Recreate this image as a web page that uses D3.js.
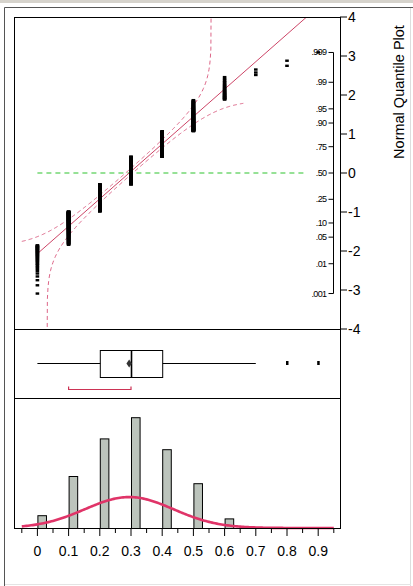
<!DOCTYPE html>
<html>
<head>
<meta charset="utf-8">
<script src="https://cdn.jsdelivr.net/npm/d3@7"></script>
<style>
 body { margin:0; background:#fff; }
 text { font-family:"Liberation Sans", Arial, sans-serif; }
</style>
</head>
<body>
<svg id="chart" width="413" height="586"></svg>
<script>
// data
var values = [0, 0.1, 0.2, 0.3, 0.4, 0.5, 0.6, 0.7, 0.8, 0.9];
var counts = [32, 130, 224, 277, 197, 112, 24, 3, 2, 1];
var xTickValues = [0, 0.1, 0.2, 0.3, 0.4, 0.5, 0.6, 0.7, 0.8, 0.9];
var xTickLabels = ["0", "0.1", "0.2", "0.3", "0.4", "0.5", "0.6", "0.7", "0.8", "0.9"];
var quantileTicks = [4, 3, 2, 1, 0, -1, -2, -3, -4];
var probTicks = [0.001, 0.01, 0.05, 0.10, 0.25, 0.50, 0.75, 0.90, 0.95, 0.99, 0.999];
var probLabels = [".001", ".01", ".05", ".10", ".25", ".50", ".75", ".90", ".95", ".99", ".999"];
var shortestHalf = [0.1, 0.3];
var bandD = 0.032;       // confidence band width (probability)
var bandRange = [-0.05, 0.66];
var binWidth = 0.0275;

// stats
var n = d3.sum(counts);
var mean = d3.sum(values, function(v, i) { return v * counts[i]; }) / n;
var sd = Math.sqrt(d3.sum(values, function(v, i) { return (v - mean) * (v - mean) * counts[i]; }) / (n - 1));

function normCdf(z) {
 var t = 1 / (1 + 0.2316419 * Math.abs(z));
 var d = 0.3989423 * Math.exp(-z * z / 2);
 var p = d * t * (0.3193815 + t * (-0.3565638 + t * (1.781478 + t * (-1.821256 + t * 1.330274))));
 return z > 0 ? 1 - p : p;
}
function normInv(p) {
 var a = [-39.6968302866538, 220.946098424521, -275.928510446969, 138.357751867269, -30.6647980661472, 2.50662827745924];
 var b = [-54.4760987982241, 161.585836858041, -155.698979859887, 66.8013118877197, -13.2806815528857];
 var c = [-0.00778489400243029, -0.322396458041136, -2.40075827716184, -2.54973253934373, 4.37466414146497, 2.93816398269878];
 var d = [0.00778469570904146, 0.32246712907004, 2.445134137143, 3.75440866190742];
 var q, r;
 if (p < 0.02425) {
  q = Math.sqrt(-2 * Math.log(p));
  return (((((c[0]*q+c[1])*q+c[2])*q+c[3])*q+c[4])*q+c[5]) / ((((d[0]*q+d[1])*q+d[2])*q+d[3])*q+1);
 }
 if (p > 1 - 0.02425) {
  q = Math.sqrt(-2 * Math.log(1 - p));
  return -(((((c[0]*q+c[1])*q+c[2])*q+c[3])*q+c[4])*q+c[5]) / ((((d[0]*q+d[1])*q+d[2])*q+d[3])*q+1);
 }
 q = p - 0.5; r = q * q;
 return (((((a[0]*r+a[1])*r+a[2])*r+a[3])*r+a[4])*r+a[5])*q / (((((b[0]*r+b[1])*r+b[2])*r+b[3])*r+b[4])*r+1);
}

// box stats from the counts
function quantileOf(p) {
 var cum = 0;
 for (var i = 0; i < values.length; i++) { cum += counts[i]; if (cum / n >= p) return values[i]; }
 return values[values.length - 1];
}
var q1 = quantileOf(0.25), med = quantileOf(0.5), q3 = quantileOf(0.75);
var iqr = q3 - q1;
var inside = values.filter(function(v, i) { return counts[i] > 0 && v >= q1 - 1.5 * iqr - 1e-9 && v <= q3 + 1.5 * iqr + 1e-9; });
var whiskLo = d3.min(inside), whiskHi = d3.max(inside);
var outliers = values.filter(function(v, i) { return counts[i] > 0 && (v < whiskLo || v > whiskHi); });

var svg = d3.select("#chart");
var L = 14, R = 340, T = 17, qB = 329, bB = 398, hB = 528;

var x = d3.scaleLinear().domain([-0.075, 0.975]).range([L, L + 327.6]);
var yq = d3.scaleLinear().domain([-4, 4]).range([qB, T]);
var yh = d3.scaleLinear().domain([0, 325]).range([hB, bB]);

// window frame
svg.append("rect").attr("x", 0).attr("y", 0).attr("width", 413).attr("height", 3).attr("fill", "#d6d3cc");
svg.append("line").attr("x1", 4.5).attr("x2", 4.5).attr("y1", 7.5).attr("y2", 586).attr("stroke", "#555");
svg.append("line").attr("x1", 4.5).attr("x2", 413).attr("y1", 7.5).attr("y2", 7.5).attr("stroke", "#555");
svg.append("line").attr("x1", 410.5).attr("x2", 410.5).attr("y1", 8).attr("y2", 586).attr("stroke", "#ddd");
svg.append("line").attr("x1", 5).attr("x2", 411).attr("y1", 584.5).attr("y2", 584.5).attr("stroke", "#e4e4e4");

svg.append("clipPath").attr("id", "qclip").append("rect")
  .attr("x", L).attr("y", T).attr("width", R - L).attr("height", qB - T);

// ---- quantile panel
var qg = svg.append("g").attr("clip-path", "url(#qclip)");
var fitEnd = mean + 4 * sd;

qg.append("line")
  .attr("x1", x(values[0])).attr("x2", x(fitEnd))
  .attr("y1", yq(0)).attr("y2", yq(0))
  .attr("stroke", "#2ec42e").attr("stroke-width", 1.2).attr("stroke-dasharray", "5,4");

var bandXs = d3.range(bandRange[0], bandRange[1] + 1e-9, 0.002);
var bandLine = d3.line().x(function(d) { return x(d[0]); }).y(function(d) { return yq(d[1]); });
var upper = bandXs.map(function(v) { var p = normCdf((v - mean) / sd) + bandD; return [v, p >= 0.99999 ? 6 : normInv(p)]; });
var lower = bandXs.map(function(v) { var p = normCdf((v - mean) / sd) - bandD; return [v, p <= 0.00001 ? -6 : normInv(p)]; });
[upper, lower].forEach(function(b) {
 qg.append("path").attr("d", bandLine(b)).attr("fill", "none")
   .attr("stroke", "#dd6688").attr("stroke-width", 1).attr("stroke-dasharray", "4,3");
});

qg.append("line")
  .attr("x1", x(values[0])).attr("x2", x(fitEnd))
  .attr("y1", yq((values[0] - mean) / sd)).attr("y2", yq(4))
  .attr("stroke", "#cc4466").attr("stroke-width", 1);

// data points, one per observation
var pts = [], rank = 0;
values.forEach(function(v, i) {
 for (var k = 0; k < counts[i]; k++) { rank++; pts.push([v, normInv(rank / (n + 1))]); }
});
qg.selectAll("rect.pt").data(pts).enter().append("rect").attr("class", "pt")
  .attr("x", function(d) { return x(d[0]) - 1.8; }).attr("y", function(d) { return yq(d[1]) - 1.2; })
  .attr("width", 3.6).attr("height", 2.4).attr("fill", "#000");

// prob axis
var pAxisX = 333.5;
svg.append("line").attr("x1", pAxisX).attr("x2", pAxisX)
  .attr("y1", yq(normInv(probTicks[0]))).attr("y2", yq(normInv(probTicks[probTicks.length - 1])))
  .attr("stroke", "#000");
probTicks.forEach(function(p, i) {
 var yy = yq(normInv(p));
 svg.append("line").attr("x1", pAxisX - 5).attr("x2", pAxisX).attr("y1", yy).attr("y2", yy).attr("stroke", "#000");
 svg.append("text").attr("x", pAxisX - 7).attr("y", yy + 3).attr("text-anchor", "end")
   .attr("font-size", "9px").attr("letter-spacing", "-0.6px").text(probLabels[i]);
});

// quantile axis
svg.append("line").attr("x1", R + 0.5).attr("x2", R + 0.5).attr("y1", T).attr("y2", hB).attr("stroke", "#000");
quantileTicks.forEach(function(q) {
 svg.append("line").attr("x1", R).attr("x2", R + 7).attr("y1", yq(q)).attr("y2", yq(q)).attr("stroke", "#000");
 svg.append("text").attr("x", R + 8).attr("y", yq(q) + 5).attr("font-size", "14px")
   .text(q < 0 ? "-" + Math.abs(q) : q);
});
svg.append("text").attr("transform", "translate(404,92) rotate(-90)")
  .attr("text-anchor", "middle").attr("font-size", "14.5px").text("Normal Quantile Plot");

// plot frame
svg.append("line").attr("x1", L + 0.5).attr("x2", L + 0.5).attr("y1", T).attr("y2", hB).attr("stroke", "#000");
svg.append("line").attr("x1", L).attr("x2", R + 1).attr("y1", T + 0.5).attr("y2", T + 0.5).attr("stroke", "#000");
svg.append("line").attr("x1", L).attr("x2", R + 1).attr("y1", qB + 0.5).attr("y2", qB + 0.5).attr("stroke", "#000");
svg.append("line").attr("x1", L).attr("x2", R + 1).attr("y1", bB + 0.5).attr("y2", bB + 0.5).attr("stroke", "#000");

// ---- box plot panel
var bTop = 350, bBot = 377, bMid = 363.5;
svg.append("line").attr("x1", x(whiskLo)).attr("x2", x(whiskHi)).attr("y1", bMid).attr("y2", bMid).attr("stroke", "#000");
svg.append("rect").attr("x", x(q1) + 0.5).attr("y", bTop + 0.5).attr("width", x(q3) - x(q1)).attr("height", bBot - bTop)
  .attr("fill", "#fff").attr("stroke", "#000");
svg.append("line").attr("x1", x(med) + 0.5).attr("x2", x(med) + 0.5).attr("y1", bTop).attr("y2", bBot)
  .attr("stroke", "#000").attr("stroke-width", 1.6);
var ci = 1.96 * sd / Math.sqrt(n);
svg.append("path")
  .attr("d", "M" + x(mean - ci) + "," + bMid + "L" + x(mean) + "," + (bMid - 4) + "L" + x(mean + ci) + "," + bMid + "L" + x(mean) + "," + (bMid + 4) + "Z")
  .attr("fill", "#333").attr("stroke", "none");
svg.selectAll("rect.out").data(outliers).enter().append("rect").attr("class", "out")
  .attr("x", function(d) { return x(d) - 1; }).attr("y", bMid - 2.5).attr("width", 2.5).attr("height", 4).attr("fill", "#000");
var shY = 389.5;
svg.append("path")
  .attr("d", "M" + x(shortestHalf[0]) + "," + (shY - 3) + "V" + shY + "H" + x(shortestHalf[1]) + "V" + (shY - 3))
  .attr("fill", "none").attr("stroke", "#cc3355").attr("stroke-width", 1.2);

// ---- histogram panel
svg.selectAll("rect.bar").data(values.map(function(v, i) { return {v: v, c: counts[i]}; }).filter(function(d) { return d.c >= 10; }))
  .enter().append("rect").attr("class", "bar")
  .attr("x", function(d) { return x(d.v) + 0.5; }).attr("y", function(d) { return yh(d.c) + 0.5; })
  .attr("width", function(d) { return x(d.v + binWidth) - x(d.v); }).attr("height", function(d) { return yh(0) - yh(d.c); })
  .attr("fill", "#bcc4bc").attr("stroke", "#000");

var curveXs = d3.range(-0.05, 0.95 + 1e-9, 0.005);
svg.append("path")
  .attr("d", d3.line().x(function(v) { return x(v); })
    .y(function(v) { var z = (v - mean) / sd; return yh(n * binWidth * Math.exp(-z * z / 2) / (sd * Math.sqrt(2 * Math.PI))); })(curveXs))
  .attr("fill", "none").attr("stroke", "#e03468").attr("stroke-width", 2.6);

svg.append("line").attr("x1", L).attr("x2", R + 1).attr("y1", hB + 0.5).attr("y2", hB + 0.5).attr("stroke", "#000");

var minor = d3.range(-0.05, 1.0, 0.1);
minor.forEach(function(v) {
 svg.append("line").attr("x1", x(v)).attr("x2", x(v)).attr("y1", hB).attr("y2", hB + 5).attr("stroke", "#000");
});
xTickValues.forEach(function(v, i) {
 svg.append("line").attr("x1", x(v)).attr("x2", x(v)).attr("y1", hB).attr("y2", hB + 8).attr("stroke", "#000");
 svg.append("text").attr("x", x(v)).attr("y", 556).attr("text-anchor", "middle").attr("font-size", "14px").text(xTickLabels[i]);
});
</script>
</body>
</html>
